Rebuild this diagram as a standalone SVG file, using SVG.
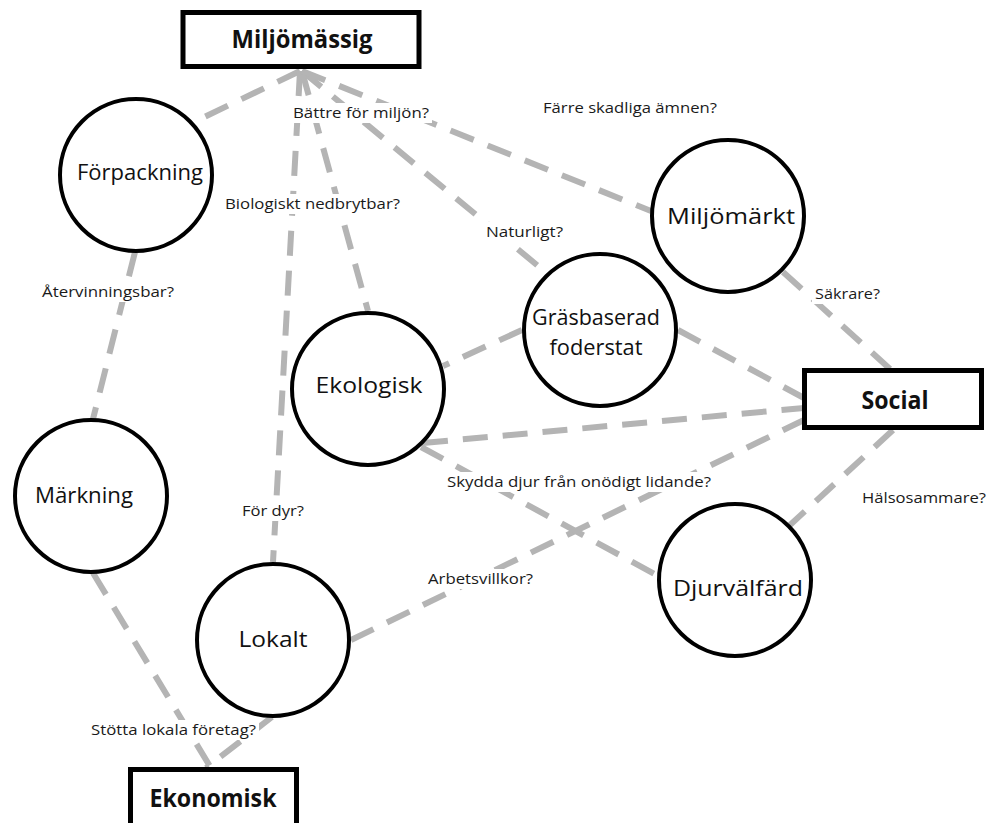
<svg xmlns="http://www.w3.org/2000/svg" width="988" height="823" viewBox="0 0 988 823">
<style>
.conn{stroke:#b4b4b4;stroke-width:6;stroke-dasharray:25 15;fill:none}
.node circle{fill:#fff;stroke:#000;stroke-width:4}
.box rect{fill:#fff;stroke:#000;stroke-width:5}
.nt{font-family:"Open Sans","Noto Sans","Liberation Sans",sans-serif;font-size:22px;fill:#111;text-anchor:middle}
.bt{font-family:"Open Sans","Noto Sans","Liberation Sans",sans-serif;font-size:25px;font-weight:bold;fill:#111;text-anchor:middle}
.lt{font-family:"Open Sans","Noto Sans","Liberation Sans",sans-serif;font-size:15px;fill:#1a1a1a}
.lbg{fill:#fff}
</style>
<rect width="988" height="823" fill="#fff"/>
<g id="connectors">
<line class="conn" x1="300" y1="71" x2="196" y2="121"/>
<line class="conn" x1="300" y1="71" x2="273" y2="562"/>
<line class="conn" x1="302" y1="71" x2="368" y2="311"/>
<line class="conn" x1="302" y1="71" x2="543" y2="270"/>
<line class="conn" x1="302" y1="71" x2="651" y2="211"/>
<line class="conn" x1="135" y1="252" x2="93" y2="419"/>
<line class="conn" x1="93" y1="573" x2="211" y2="768"/>
<line class="conn" x1="272" y1="717" x2="206" y2="768"/>
<line class="conn" x1="351" y1="640" x2="804" y2="420"/>
<line class="conn" x1="423" y1="443" x2="804" y2="408"/>
<line class="conn" x1="421" y1="447" x2="660" y2="577"/>
<line class="conn" x1="522" y1="330" x2="443" y2="366"/>
<line class="conn" x1="678" y1="330" x2="804" y2="398"/>
<line class="conn" x1="783" y1="272" x2="890" y2="369"/>
<line class="conn" x1="893" y1="430" x2="790" y2="525"/>
</g>
<g id="labels">
<rect class="lbg" x="290" y="103" width="142" height="20"/>
<text class="lt" x="293" y="118" textLength="136" lengthAdjust="spacingAndGlyphs">Bättre för miljön?</text>
<rect class="lbg" x="222" y="194" width="181" height="20"/>
<text class="lt" x="225" y="209" textLength="175" lengthAdjust="spacingAndGlyphs">Biologiskt nedbrytbar?</text>
<rect class="lbg" x="540" y="98" width="180" height="20"/>
<text class="lt" x="543" y="113" textLength="174" lengthAdjust="spacingAndGlyphs">Färre skadliga ämnen?</text>
<rect class="lbg" x="483" y="222" width="83" height="20"/>
<text class="lt" x="486" y="237" textLength="77" lengthAdjust="spacingAndGlyphs">Naturligt?</text>
<rect class="lbg" x="39" y="280" width="138" height="22"/>
<text class="lt" x="42" y="297" textLength="132" lengthAdjust="spacingAndGlyphs">Återvinningsbar?</text>
<rect class="lbg" x="812" y="284" width="71" height="20"/>
<text class="lt" x="815" y="299" textLength="65" lengthAdjust="spacingAndGlyphs">Säkrare?</text>
<rect class="lbg" x="444" y="472" width="270" height="20"/>
<text class="lt" x="447" y="487" textLength="264" lengthAdjust="spacingAndGlyphs">Skydda djur från onödigt lidande?</text>
<rect class="lbg" x="859" y="488" width="129" height="20"/>
<text class="lt" x="862" y="503" textLength="124" lengthAdjust="spacingAndGlyphs">Hälsosammare?</text>
<rect class="lbg" x="425" y="569" width="111" height="20"/>
<text class="lt" x="428" y="584" textLength="105" lengthAdjust="spacingAndGlyphs">Arbetsvillkor?</text>
<rect class="lbg" x="239" y="501" width="68" height="20"/>
<text class="lt" x="242" y="516" textLength="62" lengthAdjust="spacingAndGlyphs">För dyr?</text>
<rect class="lbg" x="88" y="720" width="171" height="20"/>
<text class="lt" x="91" y="735" textLength="165" lengthAdjust="spacingAndGlyphs">Stötta lokala företag?</text>
</g>
<g id="miljomassig" class="box">
<rect x="183" y="12.5" width="236" height="54"/>
<text class="bt" x="302" y="48" textLength="141" lengthAdjust="spacingAndGlyphs">Miljömässig</text>
</g>
<g id="social" class="box">
<rect x="804.5" y="370.5" width="177" height="57"/>
<text class="bt" x="895" y="409" textLength="67" lengthAdjust="spacingAndGlyphs">Social</text>
</g>
<g id="ekonomisk" class="box">
<rect x="130.5" y="769.5" width="166" height="70"/>
<text class="bt" x="213" y="807" textLength="127" lengthAdjust="spacingAndGlyphs">Ekonomisk</text>
</g>
<g id="forpackning" class="node">
<circle cx="136" cy="175" r="76"/>
<text class="nt" x="140" y="180" textLength="126" lengthAdjust="spacingAndGlyphs">Förpackning</text>
</g>
<g id="miljomarkt" class="node">
<circle cx="728" cy="216" r="76"/>
<text class="nt" x="731" y="224" textLength="128" lengthAdjust="spacingAndGlyphs">Miljömärkt</text>
</g>
<g id="grasbaserad" class="node">
<circle cx="600" cy="330" r="76"/>
<text class="nt" x="596" y="325" textLength="128" lengthAdjust="spacingAndGlyphs">Gräsbaserad</text>
<text class="nt" x="596" y="355" textLength="93" lengthAdjust="spacingAndGlyphs">foderstat</text>
</g>
<g id="ekologisk" class="node">
<circle cx="368" cy="389" r="76"/>
<text class="nt" x="369" y="393" textLength="107" lengthAdjust="spacingAndGlyphs">Ekologisk</text>
</g>
<g id="markning" class="node">
<circle cx="91" cy="496" r="76"/>
<text class="nt" x="84" y="503" textLength="98" lengthAdjust="spacingAndGlyphs">Märkning</text>
</g>
<g id="lokalt" class="node">
<circle cx="273" cy="640" r="76"/>
<text class="nt" x="273" y="647" textLength="69" lengthAdjust="spacingAndGlyphs">Lokalt</text>
</g>
<g id="djurvalfard" class="node">
<circle cx="735" cy="580" r="76"/>
<text class="nt" x="738" y="596" textLength="130" lengthAdjust="spacingAndGlyphs">Djurvälfärd</text>
</g>
</svg>
